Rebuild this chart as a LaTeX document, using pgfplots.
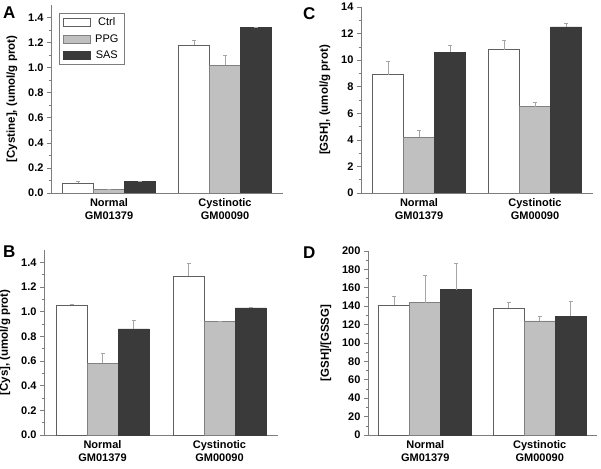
\documentclass[border=0pt]{standalone}
\usepackage{fontspec}
\setmainfont{Liberation Sans}
\usepackage{pgfplots}
\pgfplotsset{compat=1.18}

\definecolor{ppgc}{RGB}{192,192,192}
\definecolor{sasc}{RGB}{58,58,58}
\definecolor{edge}{RGB}{95,95,95}
\definecolor{axc}{RGB}{125,125,125}
\definecolor{errc}{RGB}{165,165,165}

\pgfplotsset{
  panel/.style={
    scale only axis, ybar=0pt, bar width=31pt,
    xmin=-0.5, xmax=1.5, xtick={0,1}, ymin=0,
    xticklabels={{Normal\\GM01379},{Cystinotic\\GM00090}},
    axis x line*=bottom, axis y line*=left,
    axis line style={-, axc, line width=0.8pt},
    tick align=outside, xtick style={draw=none},
    ytick style={axc, line width=0.6pt},
    major tick length=4pt, minor tick length=2.5pt,
    minor y tick num=1,
    tick label style={font=\bfseries\fontsize{11}{12}\selectfont},
    x tick label style={align=center, inner sep=1pt, font=\bfseries\fontsize{11}{13.5}\selectfont},
    ylabel style={font=\bfseries\fontsize{11.5}{13}\selectfont},
    ylabel shift=4pt,
    /pgf/number format/assume math mode=true,
    error bars/y dir=plus, error bars/y explicit,
    error bars/error bar style={errc, line width=0.7pt},
    error bars/error mark options={rotate=90, mark size=2pt, errc, line width=0.7pt},
    legend image code/.code={\draw[#1] (0pt,-4pt) rectangle (27pt,4pt);},
  },
  onedec/.style={yticklabel style={/pgf/number format/.cd, fixed, fixed zerofill, precision=1}},
  ctrl/.style={fill=white, draw=edge, line width=0.7pt},
  ppg/.style={fill=ppgc, draw=gray, line width=0.7pt},
  sas/.style={fill=sasc, draw=sasc, line width=0.7pt},
}

\begin{document}
\begin{tikzpicture}
\useasboundingbox (0,0) rectangle (601pt,468pt);

% A: cystine
\begin{axis}[panel, onedec, at={(51pt,275pt)}, width=232pt, height=188pt,
  ymax=1.5, ytick={0,0.2,0.4,0.6,0.8,1.0,1.2,1.4},
  ylabel={[Cystine], (umol/g prot)},
  legend style={at={(rel axis cs:0.035,0.96)}, anchor=north west, draw=axc,
    line width=0.7pt, font=\fontsize{11}{12}\selectfont, row sep=3pt,
    inner xsep=4pt, inner ysep=3pt,
    /tikz/every odd column/.style={column sep=2pt}}]
  \addplot[ctrl] coordinates {(0,0.08) +- (0,0.01) (1,1.18) +- (0,0.04)};
  \addplot[ppg] coordinates {(0,0.03) +- (0,0.0) (1,1.02) +- (0,0.08)};
  \addplot[sas] coordinates {(0,0.095) +- (0,0.0) (1,1.32) +- (0,0.005)};
  \legend{Ctrl,PPG,SAS}
\end{axis}

% C: GSH
\begin{axis}[panel, at={(361pt,275pt)}, width=232pt, height=186pt,
  ymax=14, ytick={0,2,...,14},
  ylabel={[GSH], (umol/g prot)}]
  \addplot[ctrl] coordinates {(0,8.9) +- (0,1.0) (1,10.8) +- (0,0.7)};
  \addplot[ppg] coordinates {(0,4.2) +- (0,0.5) (1,6.5) +- (0,0.3)};
  \addplot[sas] coordinates {(0,10.6) +- (0,0.5) (1,12.5) +- (0,0.25)};
\end{axis}

% B: cys
\begin{axis}[panel, onedec, at={(44pt,33pt)}, width=234pt, height=185pt,
  ymax=1.5, ytick={0,0.2,0.4,0.6,0.8,1.0,1.2,1.4},
  ylabel={[Cys], (umol/g prot)}]
  \addplot[ctrl] coordinates {(0,1.05) +- (0,0.01) (1,1.29) +- (0,0.10)};
  \addplot[ppg] coordinates {(0,0.58) +- (0,0.08) (1,0.92) +- (0,0.005)};
  \addplot[sas] coordinates {(0,0.86) +- (0,0.07) (1,1.03) +- (0,0.005)};
\end{axis}

% D: GSH/GSSG
\begin{axis}[panel, at={(368pt,33pt)}, width=229pt, height=184pt,
  ymax=200, ytick={0,20,...,200},
  ylabel={[GSH]/[GSSG]}]
  \addplot[ctrl] coordinates {(0,141) +- (0,10) (1,138) +- (0,6)};
  \addplot[ppg] coordinates {(0,144) +- (0,29) (1,124) +- (0,5)};
  \addplot[sas] coordinates {(0,158) +- (0,29) (1,129) +- (0,16)};
\end{axis}

\begin{scope}[every node/.style={anchor=north west, inner sep=0pt, font=\bfseries\fontsize{17}{17}\selectfont}]
  \node at (3pt,461pt) {A};
  \node at (303pt,461pt) {C};
  \node at (3pt,222pt) {B};
  \node at (303pt,221pt) {D};
\end{scope}
\end{tikzpicture}
\end{document}
